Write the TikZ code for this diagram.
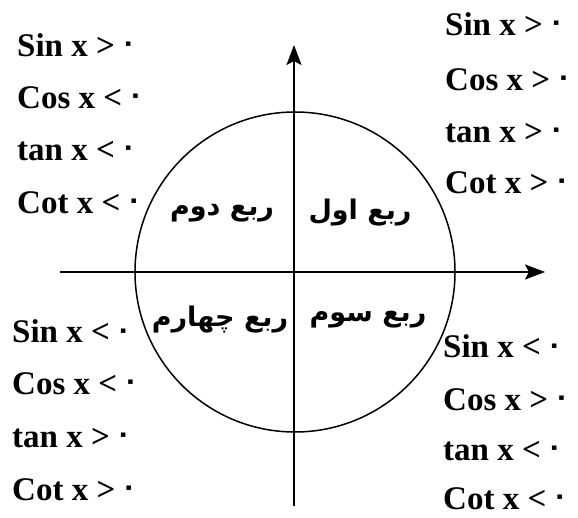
\documentclass[tikz,border=0pt]{standalone}
\usepackage{fontspec}
\setmainfont{Liberation Serif}
\newfontfamily\arabicfont[Script=Arabic]{DejaVu Sans}
\newfontfamily\digitfont{DejaVu Sans}
\TeXXeTstate=1
\usetikzlibrary{arrows.meta}
\tikzset{
  trig/.style={anchor=base west, inner sep=0pt, font=\fontsize{33}{33}\selectfont\bfseries},
  quad/.style={inner sep=0pt, font=\fontsize{27}{27}\selectfont\arabicfont\bfseries},
  axis/.style={line width=2pt, -{Stealth[length=20pt,width=15pt,inset=4pt]}}
}
\newcommand{\zr}{\raisebox{5pt}{\digitfont\bfseries\fontsize{26}{26}\selectfont ۰}}
\begin{document}
\begin{tikzpicture}[x=1pt,y=-1pt]
\useasboundingbox (0,0) rectangle (578,518);
\coordinate (hl) at (60,272);
\coordinate (hr) at (545,272);
\coordinate (vb) at (294,506);
\coordinate (vt) at (294,45);
\coordinate (c) at (295,272);
\draw[line width=1.5pt] (c) circle (160);
\draw[axis] (hl) -- (hr);
\draw[axis] (vb) -- (vt);
% top-left
\node[trig] (tl1) at (17,57) {Sin x >\,\zr};
\node[trig] (tl2) at (17,109) {Cos x <\,\zr};
\node[trig] (tl3) at (17,161) {tan x <\,\zr};
\node[trig] (tl4) at (17,214) {Cot x <\,\zr};
% top-right
\node[trig] (tr1) at (445,36) {Sin x >\,\zr};
\node[trig] (tr2) at (445,91) {Cos x >\,\zr};
\node[trig] (tr3) at (445,143) {tan x >\,\zr};
\node[trig] (tr4) at (445,194) {Cot x >\,\zr};
% bottom-left
\node[trig] (bl1) at (12,343) {Sin x <\,\zr};
\node[trig] (bl2) at (12,394) {Cos x <\,\zr};
\node[trig] (bl3) at (12,447) {tan x >\,\zr};
\node[trig] (bl4) at (12,500) {Cot x >\,\zr};
% bottom-right
\node[trig] (br1) at (443,358) {Sin x <\,\zr};
\node[trig] (br2) at (443,410) {Cos x >\,\zr};
\node[trig] (br3) at (443,460) {tan x <\,\zr};
\node[trig] (br4) at (443,509) {Cot x <\,\zr};
% quadrant labels
\node[quad] (q1) at (360,213) {\beginR ربع اول\endR};
\node[quad] (q2) at (222,213) {\beginR ربع دوم\endR};
\node[quad] (q3) at (368,320) {\beginR ربع سوم\endR};
\node[quad] (q4) at (220,320) {\beginR ربع چهارم\endR};
\end{tikzpicture}
\end{document}
